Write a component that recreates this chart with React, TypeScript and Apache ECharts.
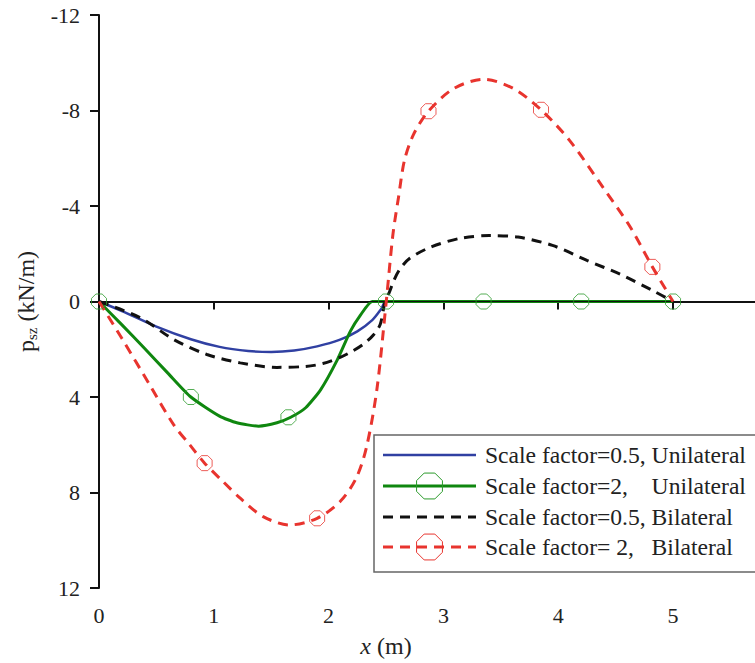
import React, { useEffect, useRef } from "react";
import * as echarts from "echarts";

// ---- data (x in m, p_sz in kN/m) ----
const xTicks = [0, 1, 2, 3, 4, 5];
const yTicks = [-12, -8, -4, 0, 4, 8, 12];

const blueX = [0, 0.2, 0.5, 0.8, 1.05, 1.3, 1.5, 1.7, 1.9, 2.1, 2.25, 2.38, 2.46, 2.5, 3, 3.5, 4, 4.5, 5];
const blueP = [0, 0.4, 1.05, 1.58, 1.9, 2.07, 2.11, 2.05, 1.88, 1.6, 1.25, 0.78, 0.3, 0, 0, 0, 0, 0, 0];

const greenX = [0, 0.2, 0.4, 0.6, 0.8, 1.05, 1.2, 1.39, 1.55, 1.67, 1.8, 1.93, 2.07, 2.19, 2.27, 2.38, 2.5, 3, 3.5, 4, 4.5, 5];
const greenP = [0, 0.98, 1.98, 3.0, 4.0, 4.8, 5.08, 5.22, 5.08, 4.85, 4.45, 3.7, 2.5, 1.24, 0.62, 0, 0, 0, 0, 0, 0, 0];
const greenMarkX = [0, 0.8, 1.65, 2.5, 3.35, 4.2, 5];
const greenMarkP = [0, 4.0, 4.85, 0, 0, 0, 0];

const blackX = [0, 0.36, 0.65, 0.94, 1.23, 1.55, 1.8, 1.95, 2.1, 2.2, 2.3, 2.39, 2.45, 2.49, 2.53, 2.57, 2.62, 2.71, 2.9, 3.15, 3.4, 3.65, 3.95, 4.25, 4.54, 4.83, 5];
const blackP = [0, 0.68, 1.59, 2.22, 2.57, 2.76, 2.72, 2.6, 2.34, 2.1, 1.8, 1.4, 0.95, 0.05, -0.4, -0.9, -1.35, -1.82, -2.3, -2.65, -2.76, -2.7, -2.35, -1.72, -1.14, -0.44, 0];

const redX = [0, 0.2, 0.44, 0.65, 0.79, 0.92, 1.08, 1.23, 1.43, 1.66, 1.9, 2.1, 2.24, 2.33, 2.42, 2.5, 2.56, 2.61, 2.66, 2.74, 2.87, 3.09, 3.35, 3.61, 3.85, 4.1, 4.39, 4.63, 4.82, 5];
const redP = [0, 1.55, 3.48, 5.16, 6.0, 6.77, 7.54, 8.24, 9.01, 9.36, 9.08, 8.38, 7.4, 6.1, 3.7, 0.1, -2.8, -4.4, -5.9, -7.0, -7.97, -8.92, -9.31, -8.92, -8.03, -6.74, -4.78, -3.1, -1.45, 0];
const redMarkX = [0.92, 1.9, 2.87, 3.85, 4.82];
const redMarkP = [6.77, 9.08, -7.97, -8.03, -1.45];

const legendLabels = [
  "Scale factor=0.5, Unilateral",
  "Scale factor=2,    Unilateral",
  "Scale factor=0.5, Bilateral",
  "Scale factor= 2,   Bilateral",
];

const BLUE = "#3040a2";
const GREEN = "#0f870f";
const GREEN_M = "#2a9a2a";
const BLACK = "#111111";
const RED = "#e8342e";
const FONT = '"Liberation Serif", "Times New Roman", serif';

const OCT = "path://M-0.414,-1L0.414,-1L1,-0.414L1,0.414L0.414,1L-0.414,1L-1,0.414L-1,-0.414Z";

const zip = (xs: number[], ys: number[]) => xs.map((x, i) => [x, ys[i]]);

function octagon(cx: number, cy: number, r: number) {
  const pts: number[][] = [];
  for (let k = 0; k < 8; k++) {
    const a = (Math.PI / 8) + (k * Math.PI) / 4;
    pts.push([cx + r * Math.cos(a), cy + r * Math.sin(a)]);
  }
  return pts;
}

export default function App() {
  const ref = useRef<HTMLDivElement>(null);
  useEffect(() => {
    document.body.style.margin = "0";
    if (!ref.current) return;
    const chart = echarts.init(ref.current, undefined, { renderer: "svg" });

    const rowY = [455, 486, 517, 547];
    const lineStyles = [
      { stroke: BLUE, lineWidth: 2.5 },
      { stroke: GREEN, lineWidth: 3 },
      { stroke: BLACK, lineWidth: 3, lineDash: [10, 7] },
      { stroke: RED, lineWidth: 3, lineDash: [10, 7] },
    ];
    const legendChildren: any[] = [
      {
        type: "rect",
        shape: { x: 374, y: 435, width: 392, height: 137 },
        style: { fill: "#fff", stroke: "#666", lineWidth: 1.5 },
      },
    ];
    rowY.forEach((y, i) => {
      legendChildren.push({
        type: "line",
        shape: { x1: 383, y1: y, x2: 476, y2: y },
        style: { ...lineStyles[i], fill: "none" },
      });
      if (i === 1 || i === 3) {
        legendChildren.push({
          type: "polygon",
          shape: { points: octagon(429.5, y, 14) },
          style: { fill: "none", stroke: i === 1 ? GREEN_M : RED, lineWidth: 1 },
        });
      }
      legendChildren.push({
        type: "text",
        x: 485,
        y: y,
        style: {
          text: legendLabels[i],
          fill: "#222",
          fontSize: 23.6,
          fontFamily: FONT,
          align: "left",
          verticalAlign: "middle",
        },
      });
    });

    chart.setOption({
      animation: false,
      grid: { left: 99, top: 15, right: 0, bottom: 75 },
      xAxis: {
        type: "value",
        min: 0,
        max: 5.714,
        name: "{i|x}{n| (m)}",
        nameLocation: "middle",
        nameGap: 46,
        nameTextStyle: {
          padding: [0, 82, 0, 0],
          rich: {
            i: { fontFamily: FONT, fontSize: 24, fontStyle: "italic", color: "#222" },
            n: { fontFamily: FONT, fontSize: 24, color: "#222" },
          },
        },
        axisLine: { lineStyle: { color: "#111", width: 2 } },
        axisTick: { customValues: xTicks, length: 8, lineStyle: { color: "#111", width: 2 } },
        axisLabel: {
          customValues: xTicks,
          fontFamily: FONT,
          fontSize: 22,
          color: "#222",
          margin: 16,
        },
        splitLine: { show: false },
      },
      yAxis: {
        type: "value",
        inverse: true,
        min: -12,
        max: 12,
        interval: 4,
        name: "{p|p}{s|sz}{n| (kN/m)}",
        nameLocation: "middle",
        nameGap: 58,
        nameTextStyle: {
          rich: {
            p: { fontFamily: FONT, fontSize: 24, color: "#222", lineHeight: 28 },
            s: { fontFamily: FONT, fontSize: 15, color: "#222", lineHeight: 16, verticalAlign: "bottom" },
            n: { fontFamily: FONT, fontSize: 24, color: "#222", lineHeight: 28 },
          },
        },
        axisLine: { show: true, lineStyle: { color: "#111", width: 2 } },
        axisTick: { show: true, length: 9, lineStyle: { color: "#111", width: 2 } },
        axisLabel: {
          fontFamily: FONT,
          fontSize: 22,
          color: "#222",
          margin: 19,
          customValues: yTicks,
        },
        splitLine: { show: false },
      },
      series: [
        {
          name: "Scale factor=0.5, Unilateral",
          type: "line",
          data: zip(blueX, blueP),
          smooth: 0.3,
          symbol: "none",
          lineStyle: { color: BLUE, width: 2.5 },
          markLine: {
            silent: true,
            symbol: ["none", "none"],
            label: { show: false },
            lineStyle: { color: "#111", width: 1, type: "solid" },
            data: [{ yAxis: 0 }],
          },
          z: 2,
        },
        {
          name: "Scale factor=2, Unilateral",
          type: "line",
          data: zip(greenX, greenP),
          smooth: 0.2,
          symbol: "none",
          lineStyle: { color: GREEN, width: 3 },
          z: 3,
        },
        {
          name: "Scale factor=0.5, Bilateral",
          type: "line",
          data: zip(blackX, blackP),
          smooth: 0.3,
          symbol: "none",
          lineStyle: { color: BLACK, width: 3, type: [10, 7] },
          z: 4,
        },
        {
          name: "Scale factor= 2, Bilateral",
          type: "line",
          data: zip(redX, redP),
          smooth: 0.3,
          symbol: "none",
          lineStyle: { color: RED, width: 3, type: [10, 7] },
          z: 5,
        },
        {
          type: "scatter",
          data: zip(greenMarkX, greenMarkP),
          symbol: OCT,
          symbolSize: 15,
          itemStyle: { color: "rgba(0,0,0,0)", borderColor: GREEN_M, borderWidth: 1 },
          z: 6,
        },
        {
          type: "scatter",
          data: zip(redMarkX, redMarkP),
          symbol: OCT,
          symbolSize: 15,
          itemStyle: { color: "rgba(0,0,0,0)", borderColor: RED, borderWidth: 1 },
          z: 6,
        },
      ],
      graphic: [{ type: "group", z: 100, children: legendChildren }],
    });
    return () => chart.dispose();
  }, []);
  return <div ref={ref} style={{ width: 755, height: 663 }} />;
}
